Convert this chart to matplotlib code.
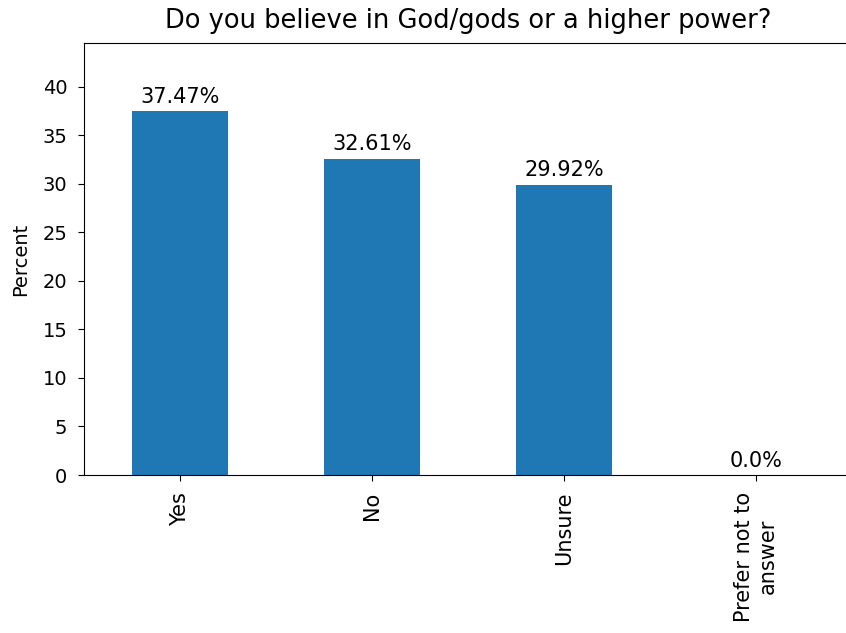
import numpy as np
import matplotlib.pyplot as plt

# survey data
answers = ["Yes", "No", "Unsure", "Prefer not to\nanswer"]
percents = [37.47, 32.61, 29.92, 0.0]

fig, ax = plt.subplots(figsize=(8.46, 6.33), dpi=100)
fig.subplots_adjust(left=0.0993, right=1.007, top=0.932, bottom=0.2496)

x = np.arange(len(answers))
bars = ax.bar(x, percents, width=0.5, color="#1f77b4")
ax.bar_label(bars, labels=[str(p) + "%" for p in percents], fontsize=15, padding=3)

ax.set_xticks(x)
ax.set_xticklabels(answers, rotation=90, fontsize=15)
ax.tick_params(axis="y", labelsize=14)
ax.tick_params(length=4.5, pad=7.5)
ax.set_xlim(-0.5, len(answers) - 0.5)
ax.set_ylim(0, max(percents) * 1.188)
ax.set_ylabel("Percent", fontsize=14, labelpad=9)
ax.set_title("Do you believe in God/gods or a higher power?", fontsize=18.5, pad=11)

fig.savefig("out.png")
